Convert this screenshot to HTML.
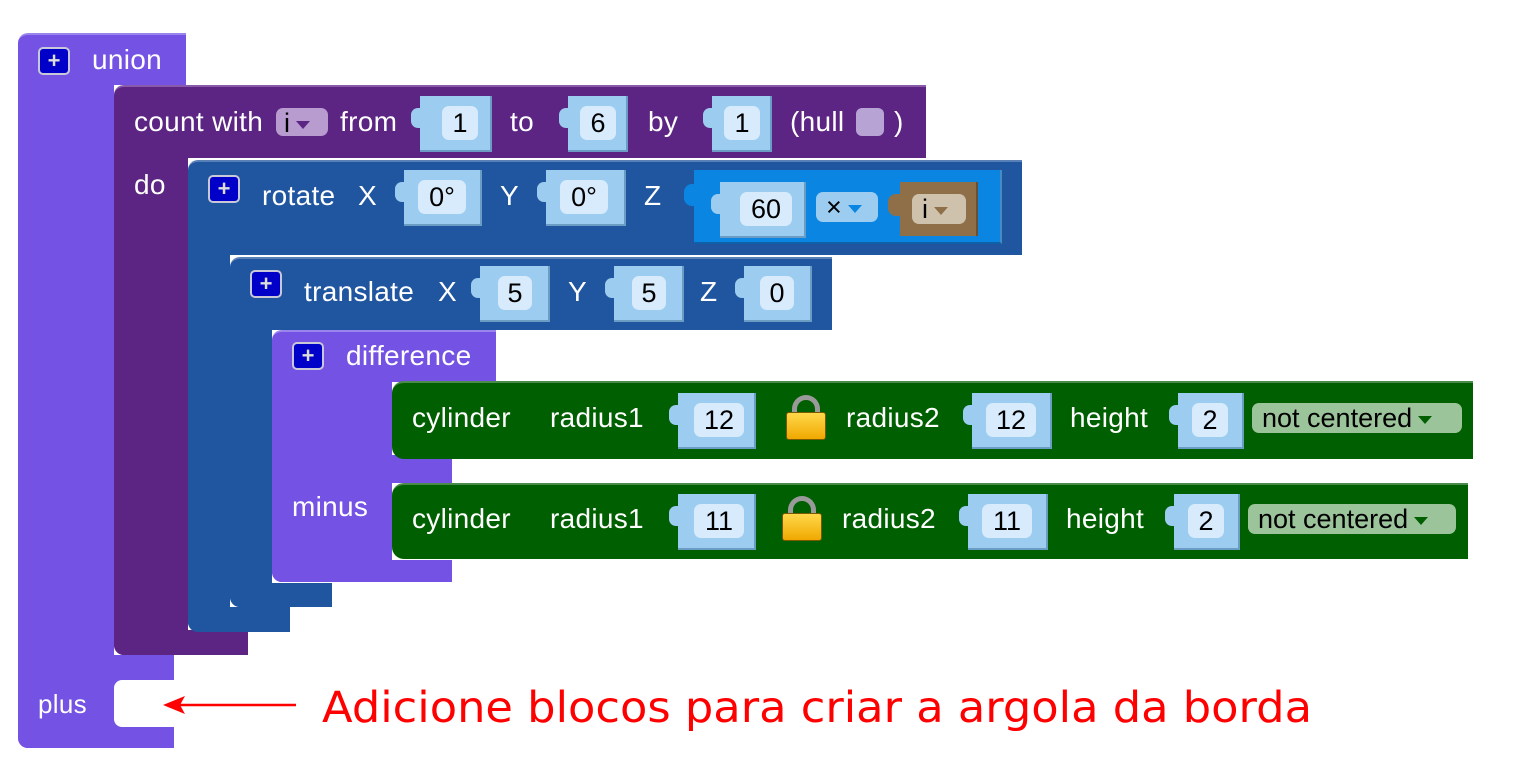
<!DOCTYPE html>
<html><head><meta charset="utf-8"><style>
body{margin:0;width:1530px;height:783px;background:#fff;position:relative;overflow:hidden;font-family:"Liberation Sans",Arial,sans-serif}
div{position:absolute;box-sizing:border-box}
.t{color:#fff;font-size:28px;letter-spacing:0.3px;line-height:30px;white-space:nowrap}
.U{background:#7452e3}.P{background:#5c2483}.B{background:#2055a0}.G{background:#005f00}
.in{background:#9ccdf0;border-right:2px solid #6a9cc4;border-bottom:2px solid #6a9cc4}
.in:before{content:"";position:absolute;left:-9px;top:12px;width:12px;height:20px;background:#9ccdf0;border-radius:7px 0 0 7px}
.f{background:#d8ebfc;border-radius:7px;color:#000;font-size:27px;text-align:center;line-height:34px}
.pl{background:#0000c8;border:2px solid #c8c8d8;border-radius:5px;color:#ddd;font-size:22px;font-weight:bold;text-align:center;line-height:24px}
.dd{border-radius:7px;font-size:27px;line-height:30px;color:#000;white-space:nowrap}
.tri{display:inline-block;width:0;height:0;border-left:7px solid transparent;border-right:7px solid transparent;border-top:8px solid;vertical-align:middle;margin-left:6px}
.sh{border:5px solid #9a9a9a;border-bottom:none;border-radius:14px 14px 0 0;width:28px;height:22px}
.bd{background:linear-gradient(#ffd84a,#f0a800);border:1px solid #7a5a00;border-radius:3px;width:40px;height:28px}
</style></head><body>
<!-- union -->
<div class="U" style="left:18px;top:33px;width:168px;height:52px;border-radius:10px 0 0 0;border-top:2px solid #9a84ee"></div>
<div class="U" style="left:18px;top:80px;width:96px;height:668px;border-radius:0 0 0 10px"></div>
<div class="U" style="left:18px;top:655px;width:156px;height:93px;border-radius:0 0 0 10px"></div>
<div style="left:114px;top:680px;width:60px;height:47px;background:#fff;border-radius:8px 0 0 8px"></div>
<div class="pl" style="left:38px;top:47px;width:32px;height:28px">+</div>
<div class="t" style="left:92px;top:45px">union</div>
<div class="t" style="left:38px;top:689px;font-size:26px">plus</div>
<!-- count -->
<div class="P" style="left:114px;top:85px;width:812px;height:73px;border-radius:10px 0 0 0;border-top:2px solid #8a5aaa"></div>
<div class="P" style="left:114px;top:150px;width:74px;height:505px;border-radius:0 0 0 10px"></div>
<div class="P" style="left:114px;top:630px;width:134px;height:25px;border-radius:0 0 0 10px"></div>
<div class="t" style="left:134px;top:107px">count with</div>
<div class="dd" style="left:276px;top:108px;width:52px;height:28px;background:#b89ccf;padding-left:8px;color:#000">i<span class="tri" style="color:#5c2483"></span></div>
<div class="t" style="left:340px;top:107px">from</div>
<div class="in" style="left:420px;top:96px;width:72px;height:56px"><div class="f" style="left:22px;top:10px;width:36px;height:34px">1</div></div>
<div class="t" style="left:510px;top:107px">to</div>
<div class="in" style="left:568px;top:96px;width:60px;height:56px"><div class="f" style="left:12px;top:10px;width:36px;height:34px">6</div></div>
<div class="t" style="left:648px;top:107px">by</div>
<div class="in" style="left:712px;top:96px;width:60px;height:56px"><div class="f" style="left:12px;top:10px;width:36px;height:34px">1</div></div>
<div class="t" style="left:790px;top:107px">(hull</div>
<div style="left:856px;top:108px;width:28px;height:28px;background:#b8a4d4;border-radius:6px"></div>
<div class="t" style="left:894px;top:107px">)</div>
<div class="t" style="left:134px;top:170px">do</div>
<!-- rotate -->
<div class="B" style="left:188px;top:160px;width:834px;height:95px;border-radius:10px 0 0 0;border-top:2px solid #5a80b8"></div>
<div class="B" style="left:188px;top:250px;width:42px;height:382px;border-radius:0 0 0 10px"></div>
<div class="B" style="left:188px;top:607px;width:102px;height:25px;border-radius:0 0 0 10px"></div>
<div class="pl" style="left:208px;top:175px;width:32px;height:28px">+</div>
<div class="t" style="left:262px;top:181px">rotate</div>
<div class="t" style="left:358px;top:181px">X</div>
<div class="in" style="left:404px;top:170px;width:78px;height:56px"><div class="f" style="left:14px;top:10px;width:48px;height:34px">0°</div></div>
<div class="t" style="left:500px;top:181px">Y</div>
<div class="in" style="left:546px;top:170px;width:80px;height:56px"><div class="f" style="left:14px;top:10px;width:48px;height:34px">0°</div></div>
<div class="t" style="left:644px;top:181px">Z</div>
<div style="left:694px;top:170px;width:308px;height:74px;background:#0a86e2;border-right:2px solid #4a8ac0;border-bottom:2px solid #1060a8"></div>
<div style="left:684px;top:184px;width:14px;height:22px;background:#0a86e2;border-radius:8px 0 0 8px"></div>
<div class="in" style="left:720px;top:182px;width:86px;height:56px"><div class="f" style="left:20px;top:10px;width:52px;height:34px">60</div></div>
<div class="dd" style="left:816px;top:192px;width:62px;height:30px;background:#9ccdf0;padding-left:10px">×<span class="tri" style="color:#0a86e2"></span></div>
<div style="left:900px;top:182px;width:78px;height:54px;background:#8f6f47;border-right:2px solid #6a5030"></div>
<div style="left:888px;top:194px;width:16px;height:22px;background:#8f6f47;border-radius:8px 0 0 8px"></div>
<div class="dd" style="left:912px;top:194px;width:54px;height:30px;background:#cfc2ad;padding-left:10px">i<span class="tri" style="color:#8f6f47"></span></div>
<!-- translate -->
<div class="B" style="left:230px;top:257px;width:602px;height:73px;border-radius:10px 0 0 0;border-top:2px solid #5a80b8"></div>
<div class="B" style="left:230px;top:320px;width:42px;height:287px;border-radius:0 0 0 10px"></div>
<div class="B" style="left:230px;top:583px;width:102px;height:24px;border-radius:0 0 0 10px"></div>
<div class="pl" style="left:250px;top:270px;width:32px;height:28px">+</div>
<div class="t" style="left:304px;top:277px">translate</div>
<div class="t" style="left:438px;top:277px">X</div>
<div class="in" style="left:480px;top:266px;width:70px;height:56px"><div class="f" style="left:18px;top:10px;width:34px;height:34px">5</div></div>
<div class="t" style="left:568px;top:277px">Y</div>
<div class="in" style="left:614px;top:266px;width:70px;height:56px"><div class="f" style="left:18px;top:10px;width:34px;height:34px">5</div></div>
<div class="t" style="left:700px;top:277px">Z</div>
<div class="in" style="left:744px;top:266px;width:68px;height:56px"><div class="f" style="left:16px;top:10px;width:34px;height:34px">0</div></div>
<!-- difference -->
<div class="U" style="left:272px;top:330px;width:224px;height:52px;border-radius:10px 0 0 0;border-top:2px solid #9a84ee"></div>
<div class="U" style="left:272px;top:375px;width:120px;height:207px;border-radius:0 0 0 10px"></div>
<div class="U" style="left:272px;top:560px;width:180px;height:22px;border-radius:0 0 0 10px"></div>
<div class="U" style="left:380px;top:455px;width:72px;height:28px"></div>
<div class="pl" style="left:292px;top:342px;width:32px;height:28px">+</div>
<div class="t" style="left:346px;top:341px">difference</div>
<div class="t" style="left:292px;top:492px">minus</div>
<!-- cyl1 -->
<div class="G" style="left:392px;top:381px;width:1081px;height:78px;border-radius:12px 0 0 12px;border-top:2px solid #4a8a4a"></div>
<div class="t" style="left:412px;top:403px">cylinder</div>
<div class="t" style="left:550px;top:403px">radius1</div>
<div class="in" style="left:678px;top:393px;width:78px;height:56px"><div class="f" style="left:16px;top:10px;width:50px;height:34px">12</div></div>
<div class="sh" style="left:792px;top:395px"></div><div class="bd" style="left:786px;top:412px"></div>
<div class="t" style="left:846px;top:403px">radius2</div>
<div class="in" style="left:972px;top:393px;width:80px;height:56px"><div class="f" style="left:14px;top:10px;width:50px;height:34px">12</div></div>
<div class="t" style="left:1070px;top:403px">height</div>
<div class="in" style="left:1178px;top:393px;width:66px;height:56px"><div class="f" style="left:14px;top:10px;width:36px;height:34px">2</div></div>
<div class="dd" style="left:1252px;top:403px;width:210px;height:30px;background:#9cc49b;padding-left:10px">not centered<span class="tri" style="color:#005f00"></span></div>
<!-- cyl2 -->
<div class="G" style="left:392px;top:483px;width:1076px;height:76px;border-radius:12px 0 0 12px;border-top:2px solid #4a8a4a"></div>
<div class="t" style="left:412px;top:504px">cylinder</div>
<div class="t" style="left:550px;top:504px">radius1</div>
<div class="in" style="left:678px;top:494px;width:78px;height:56px"><div class="f" style="left:16px;top:10px;width:50px;height:34px">11</div></div>
<div class="sh" style="left:788px;top:496px"></div><div class="bd" style="left:782px;top:513px"></div>
<div class="t" style="left:842px;top:504px">radius2</div>
<div class="in" style="left:968px;top:494px;width:80px;height:56px"><div class="f" style="left:14px;top:10px;width:50px;height:34px">11</div></div>
<div class="t" style="left:1066px;top:504px">height</div>
<div class="in" style="left:1174px;top:494px;width:66px;height:56px"><div class="f" style="left:14px;top:10px;width:36px;height:34px">2</div></div>
<div class="dd" style="left:1248px;top:504px;width:208px;height:30px;background:#9cc49b;padding-left:10px">not centered<span class="tri" style="color:#005f00"></span></div>
<!-- arrow + note -->
<svg style="position:absolute;left:0;top:0" width="1530" height="783">
<line x1="296" y1="705" x2="178" y2="705" stroke="#f00" stroke-width="2.5"/>
<polygon points="163,705 185,696 180,705 185,714" fill="#f00"/>
<text x="322" y="722" font-family="DejaVu Sans, sans-serif" font-size="43" fill="#f00" textLength="990" lengthAdjust="spacingAndGlyphs">Adicione blocos para criar a argola da borda</text>
</svg>
</body></html>
